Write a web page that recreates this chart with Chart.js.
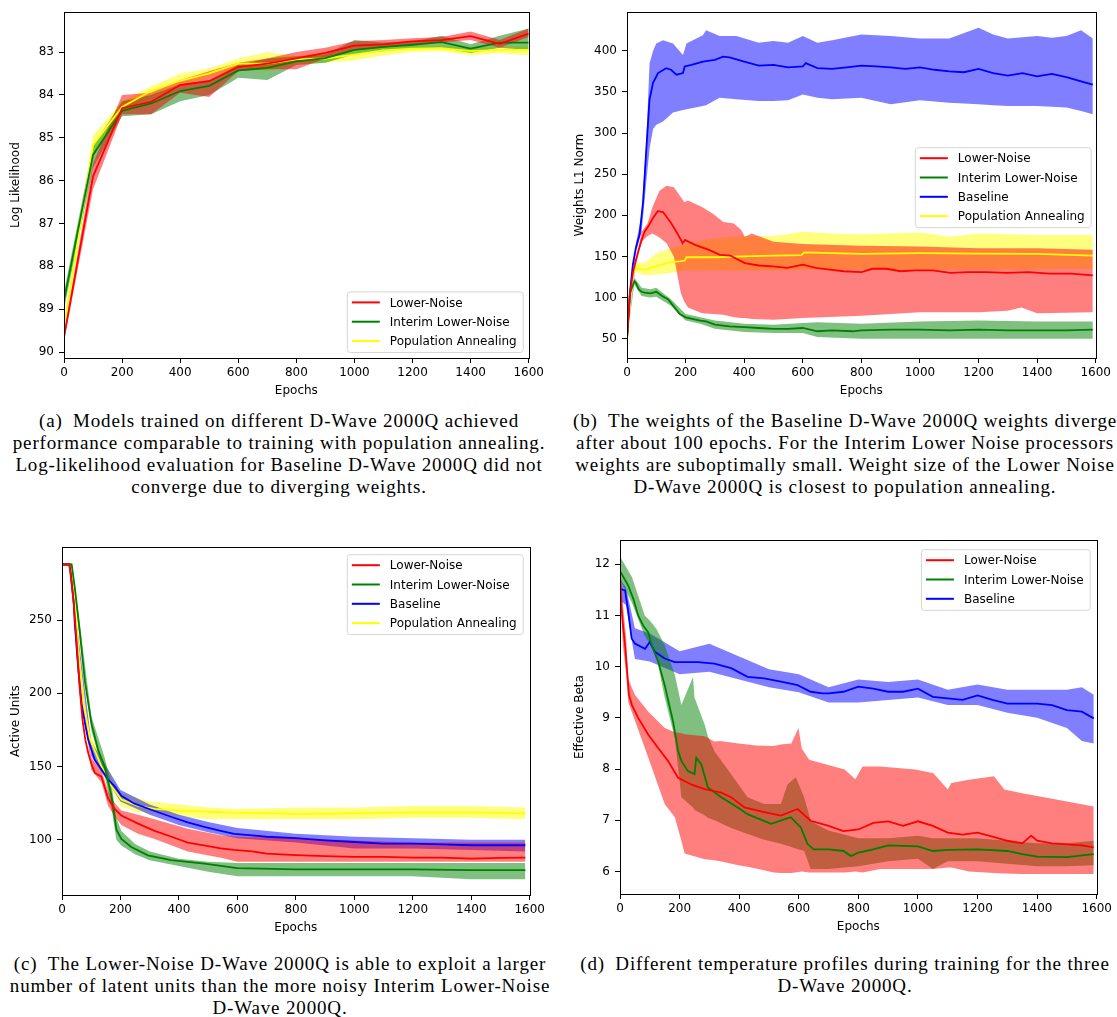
<!DOCTYPE html>
<html>
<head>
<meta charset="utf-8">
<script src="https://cdn.jsdelivr.net/npm/chart.js@4.4.0/dist/chart.umd.min.js"></script>
<style>
  body { margin: 0; background: #fff; width: 1117px; height: 1017px; position: relative; overflow: hidden; }
  canvas { position: absolute; }
  .cap { position: absolute; text-align: center; font-family: "Liberation Serif", serif; font-size: 19px;
         line-height: 22px; color: #000; white-space: nowrap; letter-spacing: 0.85px; }
</style>
</head>
<body>
<canvas id="pa" style="left:4px;top:0px" width="543" height="398"></canvas>
<canvas id="pb" style="left:567px;top:0px" width="547" height="398"></canvas>
<canvas id="pc" style="left:2px;top:535px" width="546" height="400"></canvas>
<canvas id="pd" style="left:560px;top:528px" width="555" height="406"></canvas>

<div class="cap" style="left:0px;top:410px;width:558px">
(a)&ensp;Models trained on different D-Wave 2000Q achieved<br>
performance comparable to training with population annealing.<br>
Log-likelihood evaluation for Baseline D-Wave 2000Q did not<br>
converge due to diverging weights.</div>
<div class="cap" style="left:560px;top:410px;width:570px">
(b)&ensp;The weights of the Baseline D-Wave 2000Q weights diverge<br>
after about 100 epochs. For the Interim Lower Noise processors<br>
weights are suboptimally small. Weight size of the Lower Noise<br>
D-Wave 2000Q is closest to population annealing.</div>
<div class="cap" style="left:0px;top:953px;width:560px">
(c)&ensp;The Lower-Noise D-Wave 2000Q is able to exploit a larger<br>
number of latent units than the more noisy Interim Lower-Noise<br>
D-Wave 2000Q.</div>
<div class="cap" style="left:560px;top:953px;width:570px">
(d)&ensp;Different temperature profiles during training for the three<br>
D-Wave 2000Q.</div>

<script>
// ---- shared ----
const epochTicks = [0, 200, 400, 600, 800, 1000, 1200, 1400, 1600];

// ---- (a) log likelihood ----
const aEpochs = [0, 100, 200, 300, 400, 500, 600, 700, 800, 900, 1000, 1100, 1200, 1300, 1400, 1500, 1600];
const aRed    = [89.65, 85.9, 84.31, 84.16, 83.77, 83.68, 83.35, 83.27, 83.15, 83.02, 82.85, 82.82, 82.75, 82.72, 82.63, 82.81, 82.57];
const aRedLo  = [89.55, 85.6, 84.0, 83.95, 83.65, 83.45, 83.25, 83.15, 83.0, 82.9, 82.75, 82.72, 82.68, 82.65, 82.52, 82.72, 82.45];
const aRedHi  = [89.75, 86.2, 84.45, 84.45, 83.95, 84.05, 83.45, 83.4, 83.4, 83.15, 82.95, 82.9, 82.82, 82.78, 82.72, 82.9, 82.65];
const aGreen   = [88.8, 85.4, 84.37, 84.2, 83.91, 83.79, 83.43, 83.37, 83.22, 83.14, 82.95, 82.88, 82.83, 82.77, 82.92, 82.78, 82.78];
const aGreenLo = [88.6, 85.2, 84.15, 84.0, 83.75, 83.65, 83.3, 83.15, 83.1, 83.05, 82.72, 82.78, 82.75, 82.62, 82.82, 82.62, 82.45];
const aGreenHi = [89.0, 85.7, 84.5, 84.45, 84.15, 84.0, 83.6, 83.65, 83.3, 83.25, 83.05, 82.98, 82.92, 82.9, 83.02, 82.9, 82.95];
const aYellow   = [89.42, 85.17, 84.28, 83.91, 83.67, 83.5, 83.27, 83.27, 83.17, 83.15, 83.06, 82.96, 82.92, 82.91, 82.98, 82.95, 82.95];
const aYellowLo = [89.3, 84.95, 84.15, 83.8, 83.5, 83.38, 83.15, 83.0, 83.1, 83.05, 82.95, 82.88, 82.85, 82.85, 82.9, 82.88, 82.85];
const aYellowHi = [89.55, 85.35, 84.4, 84.05, 83.8, 83.6, 83.35, 83.45, 83.25, 83.25, 83.2, 83.08, 83.0, 82.98, 83.08, 83.02, 83.08];
const aYTicks = [83, 84, 85, 86, 87, 88, 89, 90];

// ---- (b) weights L1 norm ----
const bBlueX = [0, 10, 20, 30, 43, 55, 66, 77, 89, 106, 134, 150, 169, 191, 197, 220, 259, 300, 328, 350, 400, 450, 500, 550, 600, 610, 650, 700, 750, 800, 850, 900, 950, 1000, 1050, 1100, 1150, 1200, 1250, 1300, 1350, 1400, 1450, 1500, 1550, 1590];
const bBlueY = [50, 106, 140, 160, 177, 217, 281, 341, 361, 373, 379, 377, 371, 373, 381, 383, 387, 389, 393, 392, 387, 382, 383, 380, 381, 385, 379, 378, 380, 382, 381, 380, 378, 380, 377, 375, 374, 378, 373, 370, 373, 369, 372, 368, 363, 359];
const bBlueBandX = [0, 30, 50, 66, 77, 89, 100, 123, 157, 191, 203, 259, 270, 316, 373, 450, 500, 550, 600, 650, 700, 800, 900, 1000, 1100, 1200, 1250, 1300, 1400, 1450, 1500, 1550, 1590];
const bBlueHi = [50, 165, 200, 290, 385, 400, 409, 413, 409, 395, 409, 419, 425, 418, 418, 410, 412, 410, 418, 410, 413, 420, 418, 415, 415, 428, 420, 415, 418, 416, 418, 425, 415];
const bBlueLo = [50, 155, 180, 241, 281, 305, 310, 314, 325, 328, 329, 333, 334, 343, 341, 339, 339, 340, 347, 343, 341, 343, 335, 340, 337, 335, 334, 333, 333, 332, 331, 327, 323];
const bRedX = [0, 10, 20, 30, 40, 50, 60, 75, 87, 105, 123, 148, 172, 190, 198, 232, 280, 317, 353, 402, 450, 498, 547, 600, 644, 692, 740, 801, 837, 886, 934, 983, 1043, 1104, 1164, 1225, 1297, 1370, 1442, 1515, 1590];
const bRedY = [50, 105, 130, 145, 158, 170, 180, 188, 196, 205, 204, 192, 178, 166, 170, 164, 158, 152, 151, 142, 139, 138, 136, 140, 136, 134, 132, 131, 135, 135, 132, 133, 133, 130, 131, 131, 130, 131, 129, 129, 127];
const bRedBandX = [0, 30, 50, 70, 87, 111, 135, 160, 184, 196, 208, 256, 293, 329, 365, 390, 402, 426, 500, 600, 800, 1000, 1200, 1300, 1346, 1400, 1590];
const bRedHi = [50, 145, 180, 190, 210, 230, 236, 234, 222, 216, 218, 210, 202, 192, 190, 182, 174, 178, 168, 165, 163, 162, 160, 160, 160, 160, 158];
const bRedLo = [50, 140, 168, 175, 178, 173, 166, 150, 105, 95, 88, 81, 80, 79, 76, 75, 75, 74, 73, 75, 78, 82, 82, 84, 88, 81, 82];
const bGreenX = [0, 10, 25, 30, 40, 50, 60, 80, 100, 120, 140, 160, 180, 200, 250, 270, 300, 350, 400, 450, 500, 550, 600, 650, 700, 770, 800, 900, 1000, 1100, 1200, 1300, 1400, 1500, 1590];
const bGreenY = [50, 105, 120, 118, 110, 107, 106, 105, 107, 102, 98, 89, 80, 76, 72, 71, 67, 65, 64, 63, 62, 62, 63, 59, 60, 59, 60, 61, 61, 60, 61, 60, 60, 60, 61];
const bGreenBandX = [0, 25, 50, 80, 100, 150, 200, 250, 300, 400, 500, 600, 650, 800, 1000, 1200, 1400, 1590];
const bGreenHi = [50, 124, 112, 110, 112, 98, 80, 76, 72, 68, 67, 69, 70, 68, 71, 72, 71, 71];
const bGreenLo = [50, 116, 102, 100, 101, 90, 72, 68, 62, 58, 57, 57, 52, 50, 50, 50, 50, 50];
const bYellowX = [0, 10, 20, 30, 40, 55, 70, 89, 110, 146, 180, 197, 203, 300, 400, 500, 595, 605, 700, 800, 1000, 1200, 1400, 1590];
const bYellowY = [45, 100, 130, 137, 135, 134, 135, 137, 139, 143, 144, 145, 149, 149, 150, 151, 151.5, 155, 154, 153, 154, 153.5, 153, 151];
const bYellowBandX = [0, 20, 30, 60, 100, 150, 200, 300, 400, 500, 600, 700, 800, 1000, 1100, 1200, 1400, 1590];
const bYellowHi = [45, 136, 143, 142, 154, 160, 165, 172, 175, 175, 180, 178, 177, 179, 174, 178, 176, 176];
const bYellowLo = [45, 126, 131, 127, 128, 130, 133, 133, 133, 133, 134, 134, 134, 134, 134, 134, 134, 135];
const bYTicks = [50, 100, 150, 200, 250, 300, 350, 400];

// ---- (c) active units ----
const cRedX = [0, 25, 30, 40, 50, 60, 70, 80, 90, 100, 112, 135, 158, 180, 203, 260, 317, 375, 430, 490, 543, 589, 650, 700, 800, 900, 1000, 1100, 1200, 1300, 1400, 1500, 1585];
const cRedY = [288, 288, 280, 262, 235, 205, 182, 168, 159, 152, 145.6, 143, 128, 121, 116.5, 111, 106, 102, 98, 96, 94, 93, 92, 90.5, 89.4, 88.7, 88.3, 88.3, 87.8, 87.8, 87.1, 87.6, 87.8];
const cRedBandX = [0, 25, 30, 50, 100, 135, 158, 180, 203, 260, 317, 430, 543, 600, 800, 1000, 1200, 1400, 1585];
const cRedHi = [289, 289, 282, 238, 156, 147, 133, 125, 120, 117, 114, 107.5, 103, 102, 101, 99.5, 98, 98, 98];
const cRedLo = [287, 287, 278, 232, 148, 139, 123, 116, 110, 104, 100.5, 92, 87.6, 85, 85, 85, 85, 85, 85];
const cGreenX = [0, 33, 44, 61, 78, 101, 124, 146, 169, 186, 203, 237, 294, 373, 487, 600, 800, 1000, 1200, 1400, 1585];
const cGreenY = [288, 288, 272, 242, 208.6, 179, 161, 150, 130, 107, 100.5, 95, 89.3, 86, 83.7, 80.5, 79.7, 79.7, 79.7, 79.2, 79.2];
const cGreenBandX = [0, 33, 61, 101, 146, 169, 186, 203, 250, 300, 400, 500, 600, 800, 1000, 1200, 1400, 1585];
const cGreenHi = [289, 289, 247, 184, 156, 138, 115, 106, 97, 92, 87, 85, 84, 84, 84, 84, 84, 84];
const cGreenLo = [287, 287, 237, 174, 144, 122, 100, 96, 90, 86, 82, 78, 75, 75, 75, 75, 73, 73];
const cBlueX = [0, 25, 30, 40, 44, 55, 67, 80, 90, 112, 135, 158, 180, 203, 248, 317, 375, 430, 490, 543, 589, 650, 700, 800, 900, 1000, 1100, 1200, 1300, 1400, 1500, 1585];
const cBlueY = [288, 288, 282, 262, 247, 218, 193, 178, 168, 154.5, 148, 141, 136.4, 130, 124.6, 119.6, 115.5, 111.8, 108.5, 106, 104, 103, 102, 101, 99.5, 98.4, 97.3, 97.3, 96.8, 96.2, 96.2, 96.2];
const cBlueBandX = [0, 25, 100, 200, 300, 400, 500, 600, 800, 1000, 1200, 1400, 1585];
const cBlueHi = [289, 289, 167, 134, 124, 117, 112, 108, 104, 102, 101, 100, 100];
const cBlueLo = [287, 287, 157, 126, 117, 110, 105, 101, 98, 94, 94, 93, 92];
const cYellowX = [0, 31, 36, 46, 60, 74, 97, 135, 169, 203, 260, 317, 430, 589, 800, 1000, 1200, 1400, 1585];
const cYellowY = [288, 288, 280, 253, 220, 193, 168, 150, 136.4, 127.5, 123, 121, 119.6, 118.5, 117.6, 118, 118.7, 118.7, 118];
const cYellowBandX = [0, 31, 97, 200, 250, 300, 400, 500, 600, 800, 1000, 1200, 1400, 1585];
const cYellowHi = [289, 289, 171, 132, 129, 126, 124, 122, 121, 122, 122, 123, 123, 122];
const cYellowLo = [287, 287, 165, 123, 119, 118, 116, 114, 114, 114, 114, 115, 115, 114];
const cYTicks = [100, 150, 200, 250];

// ---- (d) effective beta ----
const dRedX = [0, 5, 10, 17, 30, 40, 61, 95, 128, 161, 195, 239, 284, 340, 373, 418, 484, 540, 596, 640, 700, 750, 800, 850, 900, 950, 1000, 1050, 1100, 1150, 1200, 1250, 1300, 1350, 1380, 1400, 1450, 1500, 1550, 1590];
const dRedY = [11.84, 11.16, 10.8, 10.42, 9.45, 9.25, 9.0, 8.67, 8.41, 8.16, 7.83, 7.7, 7.61, 7.54, 7.45, 7.25, 7.16, 7.09, 7.22, 6.99, 6.89, 6.79, 6.82, 6.95, 6.98, 6.89, 6.98, 6.89, 6.76, 6.72, 6.76, 6.68, 6.6, 6.55, 6.7, 6.6, 6.55, 6.53, 6.51, 6.47];
const dRedBandX = [0, 10, 20, 28, 50, 95, 150, 184, 206, 217, 284, 317, 337, 397, 428, 456, 516, 540, 575, 599, 610, 635, 754, 790, 814, 873, 992, 1052, 1100, 1112, 1171, 1255, 1290, 1350, 1469, 1590];
const dRedHi = [12.0, 11.2, 10.6, 9.75, 9.45, 9.12, 8.8, 8.72, 8.7, 8.68, 8.64, 8.54, 8.55, 8.5, 8.48, 8.46, 8.45, 8.48, 8.5, 8.8, 8.4, 8.18, 7.99, 7.8, 8.05, 8.05, 7.99, 7.92, 7.6, 7.73, 7.79, 7.86, 7.6, 7.53, 7.4, 7.27];
const dRedLo = [11.6, 10.4, 9.9, 9.3, 8.95, 8.22, 7.32, 7.06, 6.6, 6.35, 6.24, 6.22, 6.2, 6.12, 6.09, 6.06, 5.98, 5.97, 5.97, 5.99, 6.0, 5.98, 5.98, 6.0, 5.98, 6.05, 6.05, 6.05, 6.08, 6.08, 6.0, 5.97, 5.96, 5.95, 5.95, 5.95];
const dGreenX = [0, 28, 45, 61, 78, 95, 106, 128, 150, 178, 195, 206, 228, 250, 256, 273, 295, 340, 395, 428, 507, 573, 607, 629, 650, 700, 750, 775, 800, 850, 900, 950, 1000, 1050, 1100, 1200, 1300, 1350, 1400, 1500, 1590];
const dGreenY = [11.87, 11.58, 11.32, 11.0, 10.8, 10.67, 10.42, 10.1, 9.64, 8.93, 8.35, 8.16, 7.96, 7.9, 8.22, 8.09, 7.64, 7.45, 7.25, 7.12, 6.93, 7.06, 6.86, 6.54, 6.43, 6.43, 6.4, 6.3, 6.37, 6.43, 6.51, 6.5, 6.49, 6.4, 6.42, 6.43, 6.4, 6.34, 6.29, 6.28, 6.34];
const dGreenBandX = [0, 40, 83, 100, 122, 150, 184, 206, 245, 250, 284, 295, 317, 373, 428, 484, 540, 562, 590, 618, 640, 650, 700, 800, 900, 1000, 1050, 1100, 1200, 1300, 1400, 1500, 1590];
const dGreenHi = [12.15, 11.75, 11.0, 10.9, 10.74, 10.42, 9.84, 9.25, 9.8, 9.4, 8.87, 8.64, 8.35, 7.9, 7.45, 7.32, 7.32, 7.7, 7.84, 7.45, 7.0, 6.95, 6.8, 6.65, 6.65, 6.7, 6.65, 6.65, 6.65, 6.6, 6.55, 6.55, 6.6];
const dGreenLo = [11.7, 11.25, 10.6, 10.45, 10.2, 9.4, 8.6, 7.45, 7.25, 7.2, 7.1, 7.05, 7.0, 6.85, 6.73, 6.62, 6.54, 6.5, 6.45, 6.4, 6.05, 6.05, 6.05, 6.1, 6.2, 6.25, 6.05, 6.2, 6.2, 6.15, 6.1, 6.1, 6.12];
const dBlueX = [0, 17, 28, 39, 50, 84, 100, 117, 150, 184, 262, 317, 373, 428, 484, 540, 596, 640, 680, 700, 750, 800, 850, 900, 950, 1000, 1050, 1100, 1150, 1200, 1250, 1300, 1350, 1400, 1450, 1500, 1550, 1590];
const dBlueY = [11.52, 11.49, 11.06, 10.55, 10.45, 10.35, 10.48, 10.29, 10.16, 10.09, 10.09, 10.06, 9.97, 9.8, 9.77, 9.71, 9.64, 9.51, 9.48, 9.48, 9.51, 9.61, 9.57, 9.51, 9.51, 9.57, 9.41, 9.38, 9.35, 9.44, 9.35, 9.28, 9.28, 9.28, 9.25, 9.15, 9.12, 8.99];
const dBlueBandX = [0, 20, 50, 100, 200, 300, 400, 500, 600, 700, 800, 900, 1000, 1100, 1200, 1300, 1400, 1500, 1550, 1590];
const dBlueHi = [11.7, 11.55, 10.75, 10.65, 10.3, 10.45, 10.2, 9.95, 9.85, 9.6, 9.75, 9.7, 9.75, 9.55, 9.65, 9.55, 9.55, 9.55, 9.6, 9.45];
const dBlueLo = [11.3, 11.2, 10.15, 10.1, 9.85, 9.9, 9.75, 9.6, 9.5, 9.3, 9.3, 9.35, 9.4, 9.25, 9.25, 9.1, 9.0, 8.8, 8.55, 8.5];
const dYTicks = [6, 7, 8, 9, 10, 11, 12];

// colours (matplotlib named)
const RED = '#ff0000', GREEN = '#008000', BLUE = '#0000ff', YELLOW = '#ffff00';
const fillOf = {};
fillOf[RED] = 'rgba(255,0,0,0.5)';
fillOf[GREEN] = 'rgba(0,128,0,0.5)';
fillOf[BLUE] = 'rgba(0,0,255,0.5)';
fillOf[YELLOW] = 'rgba(255,255,0,0.5)';

Chart.defaults.font.family = '"DejaVu Sans", sans-serif';
Chart.defaults.font.size = 12;
Chart.defaults.color = '#000';

function pts(xs, ys) { return xs.map((x, i) => ({ x: x, y: ys[i] })); }

function line(label, xs, ys, color) {
    return { label: label, data: pts(xs, ys), borderColor: color, borderWidth: 1.8,
             pointRadius: 0, fill: false, order: 0 };
}

function band(xs, lo, hi, color) {
    return [
        { data: pts(xs, lo), borderColor: 'rgba(0,0,0,0)', borderWidth: 0, pointRadius: 0, fill: false, order: 1 },
        { data: pts(xs, hi), borderColor: 'rgba(0,0,0,0)', borderWidth: 0, pointRadius: 0, fill: '-1',
          backgroundColor: fillOf[color], order: 1 }
    ];
}

// frame + matplotlib style legend
const mplDecor = {
    id: 'mplDecor',
    afterDraw(chart, args, opts) {
        const ctx = chart.ctx, a = chart.chartArea;
        ctx.save();
        ctx.strokeStyle = '#000';
        ctx.lineWidth = 1;
        ctx.strokeRect(Math.round(a.left) + 0.5, Math.round(a.top) + 0.5,
                       Math.round(a.right - a.left), Math.round(a.bottom - a.top));

        const items = chart.data.datasets.filter(d => d.label);
        ctx.font = '12px "DejaVu Sans"';
        const tw = Math.max(...items.map(it => ctx.measureText(it.label).width));
        const w = 5 + 28 + 10 + tw + 6;
        const rowH = 19.3;
        const h = 22 + rowH * (items.length - 1);
        const x = a.right - opts.right - w;
        const y = opts.top != null ? a.top + opts.top : a.bottom - opts.bottom - h;
        ctx.beginPath();
        ctx.roundRect(x + 0.5, y + 0.5, w, h, 3);
        ctx.fillStyle = 'rgba(255,255,255,0.8)';
        ctx.fill();
        ctx.strokeStyle = '#d6d6d6';
        ctx.stroke();
        ctx.textBaseline = 'middle';
        ctx.fillStyle = '#000';
        items.forEach((it, i) => {
            const cy = y + 11 + rowH * i;
            ctx.beginPath();
            ctx.moveTo(x + 5, cy);
            ctx.lineTo(x + 33, cy);
            ctx.strokeStyle = it.borderColor;
            ctx.lineWidth = 2;
            ctx.stroke();
            ctx.fillText(it.label, x + 43, cy + 1);
        });
        ctx.restore();
    }
};

function makePanel(id, datasets, y, legend) {
    return new Chart(document.getElementById(id), {
        type: 'line',
        data: { datasets: datasets },
        plugins: [mplDecor],
        options: {
            responsive: false,
            animation: false,
            layout: { padding: { top: y.padTop, right: 16, left: 0, bottom: 0 } },
            plugins: { legend: { display: false }, tooltip: { enabled: false }, mplDecor: legend },
            scales: {
                x: {
                    type: 'linear', min: 0, max: 1600,
                    afterBuildTicks: s => { s.ticks = epochTicks.map(v => ({ value: v })); },
                    afterFit: s => { s.height = 40; },
                    grid: { drawOnChartArea: false, drawTicks: true, tickLength: 5, color: '#000' },
                    border: { display: false },
                    ticks: { padding: 3, maxRotation: 0, autoSkip: false, color: '#000', callback: v => String(v) },
                    title: { display: true, text: 'Epochs', color: '#000', padding: { top: 0, bottom: 0 } }
                },
                y: {
                    type: 'linear', min: y.min, max: y.max, reverse: !!y.reverse,
                    afterBuildTicks: s => { s.ticks = y.ticks.map(v => ({ value: v })); },
                    afterFit: s => { s.width = 60; },
                    grid: { drawOnChartArea: false, drawTicks: true, tickLength: 5, color: '#000' },
                    border: { display: false },
                    ticks: { padding: 5, autoSkip: false, color: '#000', callback: v => String(v) },
                    title: { display: true, text: y.title, color: '#000', padding: { top: y.titlePad, bottom: 0 } }
                }
            }
        }
    });
}

makePanel('pa', [
    line('Lower-Noise', aEpochs, aRed, RED),
    line('Interim Lower-Noise', aEpochs, aGreen, GREEN),
    line('Population Annealing', aEpochs, aYellow, YELLOW),
    ...band(aEpochs, aRedLo, aRedHi, RED),
    ...band(aEpochs, aGreenLo, aGreenHi, GREEN),
    ...band(aEpochs, aYellowLo, aYellowHi, YELLOW)
], { min: 82.07, max: 90.14, reverse: true, ticks: aYTicks, title: 'Log Likelihood', titlePad: 4.8, padTop: 10 },
   { right: 6, bottom: 6 });

makePanel('pb', [
    line('Lower-Noise', bRedX, bRedY, RED),
    line('Interim Lower-Noise', bGreenX, bGreenY, GREEN),
    line('Baseline', bBlueX, bBlueY, BLUE),
    line('Population Annealing', bYellowX, bYellowY, YELLOW),
    ...band(bRedBandX, bRedLo, bRedHi, RED),
    ...band(bGreenBandX, bGreenLo, bGreenHi, GREEN),
    ...band(bBlueBandX, bBlueLo, bBlueHi, BLUE),
    ...band(bYellowBandX, bYellowLo, bYellowHi, YELLOW)
], { min: 26.5, max: 447, ticks: bYTicks, title: 'Weights L1 Norm', titlePad: 5.8, padTop: 8 },
   { right: 5, top: 135 });

makePanel('pc', [
    line('Lower-Noise', cRedX, cRedY, RED),
    line('Interim Lower-Noise', cGreenX, cGreenY, GREEN),
    line('Baseline', cBlueX, cBlueY, BLUE),
    line('Population Annealing', cYellowX, cYellowY, YELLOW),
    ...band(cRedBandX, cRedLo, cRedHi, RED),
    ...band(cGreenBandX, cGreenLo, cGreenHi, GREEN),
    ...band(cBlueBandX, cBlueLo, cBlueHi, BLUE),
    ...band(cYellowBandX, cYellowLo, cYellowHi, YELLOW)
], { min: 62.2, max: 299.8, ticks: cYTicks, title: 'Active Units', titlePad: 6.8, padTop: 10 },
   { right: 7, top: 7 });

makePanel('pd', [
    line('Lower-Noise', dRedX, dRedY, RED),
    line('Interim Lower-Noise', dGreenX, dGreenY, GREEN),
    line('Baseline', dBlueX, dBlueY, BLUE),
    ...band(dRedBandX, dRedLo, dRedHi, RED),
    ...band(dGreenBandX, dGreenLo, dGreenHi, GREEN),
    ...band(dBlueBandX, dBlueLo, dBlueHi, BLUE)
], { min: 5.56, max: 12.47, ticks: dYTicks, title: 'Effective Beta', titlePad: 12.8, padTop: 10 },
   { right: 7, top: 9 });
</script>
</body>
</html>
